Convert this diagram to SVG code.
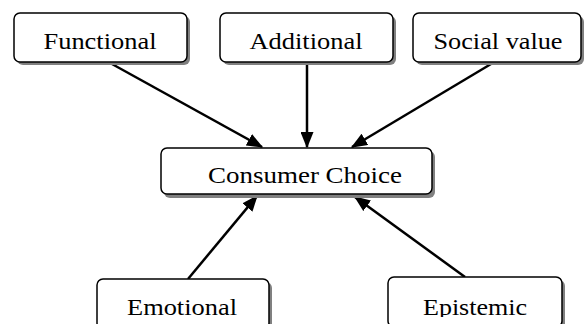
<svg xmlns="http://www.w3.org/2000/svg" width="584" height="324" viewBox="0 0 584 324">
<style>
.sh{fill:#808080;}
.bx{fill:#fff;stroke:#000;stroke-width:1.5;}
.t{font-family:"Times New Roman","Liberation Serif",Tinos,serif;font-size:24px;fill:#000;text-anchor:middle;}
.ln{stroke:#000;stroke-width:2.5;fill:none;marker-end:url(#ah);}
</style>
<defs>
<marker id="ah" markerWidth="6.5" markerHeight="5.2" refX="6" refY="2.6" orient="auto" markerUnits="strokeWidth">
<path d="M0,0 L6.5,2.6 L0,5.2 Z" fill="#000"/>
</marker>
<clipPath id="cb"><rect x="0" y="0" width="584" height="317"/></clipPath>
</defs>
<rect width="584" height="324" fill="#fff"/>
<g id="connectors">
<line class="ln" x1="112" y1="64" x2="262" y2="147"/>
<line class="ln" x1="307" y1="63" x2="307" y2="147"/>
<line class="ln" x1="491" y1="64" x2="352" y2="147"/>
<line class="ln" x1="188" y1="279" x2="257" y2="196"/>
<line class="ln" x1="465" y1="277" x2="355" y2="197"/>
</g>
<g id="functional">
<rect class="sh" x="17" y="16" width="173" height="49" rx="6"/>
<rect class="bx" x="14" y="13" width="173" height="49" rx="6"/>
<text class="t" x="100" y="49" textLength="113" lengthAdjust="spacingAndGlyphs">Functional</text>
</g>
<g id="additional">
<rect class="sh" x="223" y="16" width="173" height="49" rx="6"/>
<rect class="bx" x="220" y="13" width="173" height="49" rx="6"/>
<text class="t" x="306" y="49" textLength="113" lengthAdjust="spacingAndGlyphs">Additional</text>
</g>
<g id="social">
<rect class="sh" x="416" y="16" width="168" height="49" rx="6"/>
<rect class="bx" x="413" y="13" width="168" height="49" rx="6"/>
<text class="t" x="498" y="49" textLength="129" lengthAdjust="spacingAndGlyphs">Social value</text>
</g>
<g id="consumer">
<rect class="sh" x="164" y="151" width="271" height="47" rx="6"/>
<rect class="bx" x="161" y="148" width="271" height="46" rx="6"/>
<text class="t" x="305" y="183" textLength="194" lengthAdjust="spacingAndGlyphs">Consumer Choice</text>
</g>
<g id="emotional">
<rect class="sh" x="100" y="282" width="172" height="50" rx="6"/>
<rect class="bx" x="97" y="279" width="172" height="50" rx="6"/>
<text class="t" x="182" y="315" textLength="110" lengthAdjust="spacingAndGlyphs" clip-path="url(#cb)">Emotional</text>
</g>
<g id="epistemic">
<rect class="sh" x="391" y="280" width="174" height="50" rx="6"/>
<rect class="bx" x="388" y="277" width="174" height="50" rx="6"/>
<text class="t" x="475" y="315" textLength="104" lengthAdjust="spacingAndGlyphs" clip-path="url(#cb)">Epistemic</text>
</g>
</svg>
